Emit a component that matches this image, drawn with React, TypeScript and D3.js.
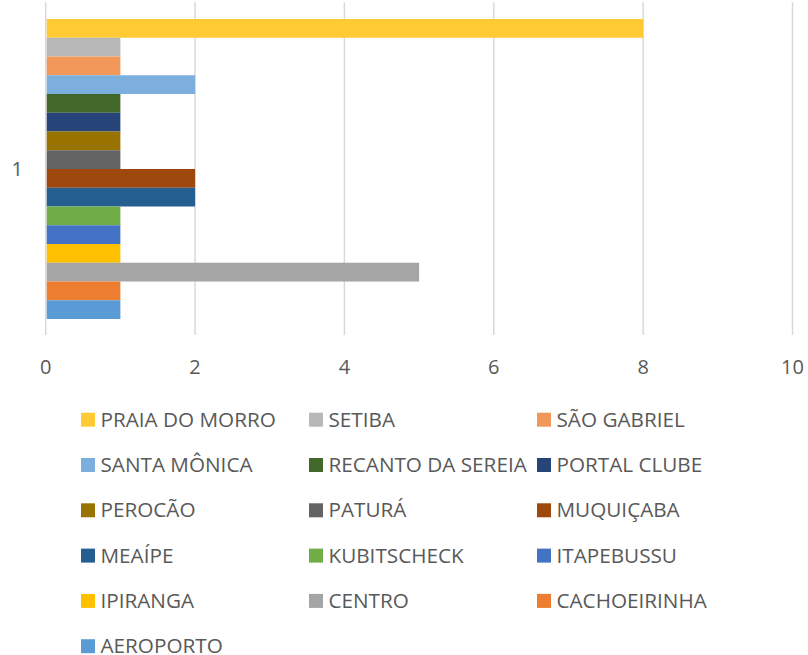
import React from "react";
import * as d3 from "d3";

const category = "1";
const seriesNames = [
  "PRAIA DO MORRO", "SETIBA", "SÃO GABRIEL",
  "SANTA MÔNICA", "RECANTO DA SEREIA", "PORTAL CLUBE",
  "PEROCÃO", "PATURÁ", "MUQUIÇABA",
  "MEAÍPE", "KUBITSCHECK", "ITAPEBUSSU",
  "IPIRANGA", "CENTRO", "CACHOEIRINHA",
  "AEROPORTO",
];
const seriesValues = [8, 1, 1, 2, 1, 1, 1, 1, 2, 2, 1, 1, 1, 5, 1, 1];
const seriesColors = [
  "#FFCA33", "#B7B7B7", "#F1975A",
  "#7CAFDD", "#43682B", "#264478",
  "#997300", "#636363", "#9E480E",
  "#255E91", "#70AD47", "#4472C4",
  "#FFC000", "#A5A5A5", "#ED7D31",
  "#5B9BD5",
];
const xTicks = [0, 2, 4, 6, 8, 10];

const W = 808;
const H = 655;
const FONT = "'Open Sans', sans-serif";
const TEXT = "#595959";

export default function App() {
  const x = d3.scaleLinear().domain([0, 10]).range([45.7, 792.5]);
  const plotTop = 2.3;
  const plotBottom = 335;
  const y = d3.scaleBand<string>().domain(seriesNames).range([19, 319]).padding(0);
  const bh = y.bandwidth();

  const legendCols = [81, 309, 537];
  const legendRow0 = 419.7;
  const legendRowStep = 45.3;

  return (
    <svg
      width={W}
      height={H}
      style={{ position: "absolute", left: 0, top: 0, background: "#fff" }}
      fontFamily={FONT}
    >
      <rect x={0} y={0} width={W} height={H} fill="#fff" />
      {xTicks.map((t) => (
        <line
          key={"g" + t}
          x1={x(t)}
          x2={x(t)}
          y1={plotTop}
          y2={plotBottom}
          stroke="#D9D9D9"
          strokeWidth={1.5}
        />
      ))}
      {seriesNames.map((name, i) => (
        <rect
          key={name}
          x={x(0) + 1}
          y={y(name)!}
          width={x(seriesValues[i]) - x(0) - 1}
          height={bh}
          fill={seriesColors[i]}
        />
      ))}
      <text
        x={23}
        y={(plotTop + plotBottom) / 2}
        textAnchor="end"
        dominantBaseline="central"
        fontSize={20}
        fill={TEXT}
      >
        {category}
      </text>
      {xTicks.map((t) => (
        <text
          key={"t" + t}
          x={x(t)}
          y={374.3}
          textAnchor="middle"
          fontSize={20}
          fill={TEXT}
        >
          {t}
        </text>
      ))}
      {seriesNames.map((name, i) => {
        const col = i % 3;
        const row = Math.floor(i / 3);
        const cy = legendRow0 + row * legendRowStep;
        const sx = legendCols[col];
        return (
          <g key={"l" + name}>
            <rect x={sx} y={cy - 7} width={14} height={14} fill={seriesColors[i]} />
            <text x={sx + 19.5} y={cy + 7} fontSize={20.7} fill={TEXT}>
              {name}
            </text>
          </g>
        );
      })}
    </svg>
  );
}
